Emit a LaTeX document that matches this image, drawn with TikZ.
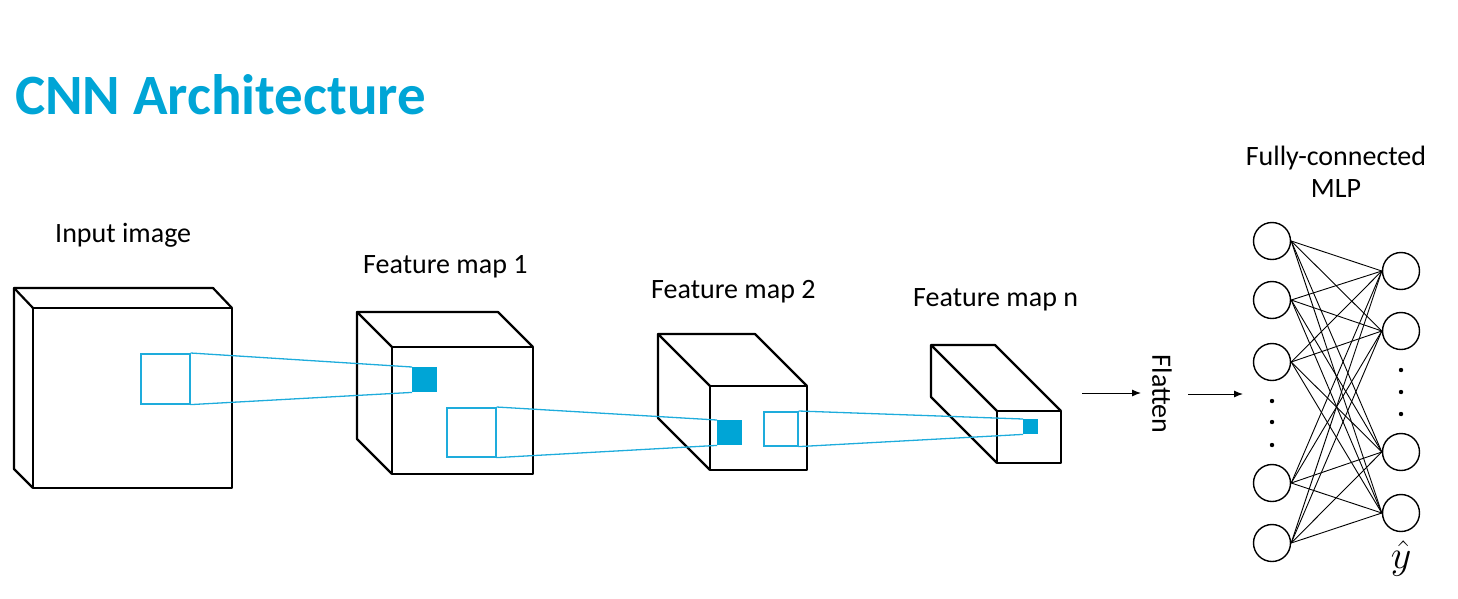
\RequirePackage{fix-cm}
\documentclass[tikz,border=0pt]{standalone}
\usepackage{fontspec}
\setmainfont{Carlito}
\usetikzlibrary{arrows.meta}
\definecolor{cblue}{RGB}{0,165,214}
\definecolor{lblue}{RGB}{30,172,220}
\begin{document}
\begin{tikzpicture}[x=1pt,y=-1pt,
  edge/.style={black,line width=2.2pt,line join=round},
  lbl/.style={inner sep=0pt,anchor=base west,font=\fontsize{28}{32}\selectfont},
  outl/.style={draw=lblue,line width=1.6pt,inner sep=0pt,anchor=north west,fill=white},
  filled/.style={fill=cblue,draw=none,inner sep=0pt,anchor=north west},
  link/.style={lblue,line width=1.3pt},
  neuron/.style={circle,draw,line width=1.4pt,minimum size=37pt,inner sep=0pt},
  wire/.style={black,line width=0.9pt},
  arr/.style={-{Latex[length=9pt,width=7pt]},line width=1pt}]
\useasboundingbox (0,0) rectangle (1458,598);
% title
\node[inner sep=0pt,anchor=base west,text=cblue,font=\fontsize{57}{62}\selectfont\bfseries] (title) at (15,114) {CNN Architecture};
% labels
\node[lbl] (linput) at (55,242) {Input image};
\node[lbl] (lfm1) at (363,273) {Feature map 1};
\node[lbl] (lfm2) at (651,298) {Feature map 2};
\node[lbl] (lfmn) at (913,306) {Feature map $\mathrm{n}$};
\node[lbl,anchor=base] (lmlp1) at (1336,165) {Fully-connected};
\node[lbl,anchor=base] (lmlp2) at (1336,197) {MLP};
% input cube
\draw[edge] (33,308) rectangle (232,488);
\draw[edge] (33,308) -- (14,288) -- (213,288) -- (232,308);
\draw[edge] (14,288) -- (14,469) -- (33,488);
% feature map 1
\draw[edge] (392,347) rectangle (533,474);
\draw[edge] (392,347) -- (357,312) -- (498,312) -- (533,347);
\draw[edge] (357,312) -- (357,439) -- (392,474);
% feature map 2
\draw[edge] (710,386) rectangle (807,470);
\draw[edge] (710,386) -- (658,334) -- (755,334) -- (807,386);
\draw[edge] (658,334) -- (658,418) -- (710,470);
% feature map n
\draw[edge] (997,411) rectangle (1061,463);
\draw[edge] (997,411) -- (931,345) -- (995,345) -- (1061,411);
\draw[edge] (931,345) -- (931,397) -- (997,463);
% receptive fields
\node[outl,minimum width=49pt,minimum height=50pt] (r0) at (140,353) {};
\node[filled,minimum width=25pt,minimum height=25pt] (f1) at (412,367) {};
\node[outl,minimum width=49pt,minimum height=49pt] (r1) at (446,407) {};
\node[filled,minimum width=25pt,minimum height=25pt] (f2) at (717,420) {};
\node[outl,minimum width=34pt,minimum height=34pt] (r2) at (763,411) {};
\node[filled,minimum width=15pt,minimum height=15pt] (fn) at (1023,419) {};
\draw[link] (r0.north east) -- (f1.north west);
\draw[link] (r0.south east) -- (f1.south west);
\draw[link] (r1.north east) -- (f2.north west);
\draw[link] (r1.south east) -- (f2.south west);
\draw[link] (r2.north east) -- (fn.north west);
\draw[link] (r2.south east) -- (fn.south west);
% flatten
\coordinate (a1s) at (1082,393);
\coordinate (a1e) at (1141,393);
\node[inner sep=0pt,rotate=-90,font=\fontsize{28}{32}\selectfont] (flat) at (1162,394) {Flatten};
\coordinate (a2s) at (1188,394);
\coordinate (a2e) at (1243,394);
\draw[arr] (a1s) -- (a1e);
\draw[arr] (a2s) -- (a2e);
% MLP
\foreach \i/\y in {1/241,2/300,3/362,4/483,5/543} {\node[neuron] (L\i) at (1272,\y) {};}
\foreach \i/\y in {1/271,2/331,3/452,4/513} {\node[neuron] (R\i) at (1401,\y) {};}
\foreach \i in {1,...,5} {\foreach \j in {1,...,4} {\draw[wire] (L\i.east) -- (R\j.west);}}
\foreach \y [count=\k] in {401,422,445} {\fill (1272,\y) circle (2.2pt) coordinate (dl\k);}
\foreach \y [count=\k] in {370,392,414} {\fill (1401,\y) circle (2.2pt) coordinate (dr\k);}
\node[inner sep=0pt,font=\fontsize{40}{44}\selectfont] (yhat) at (1401,558) {$\hat{y}$};
\end{tikzpicture}
\end{document}
